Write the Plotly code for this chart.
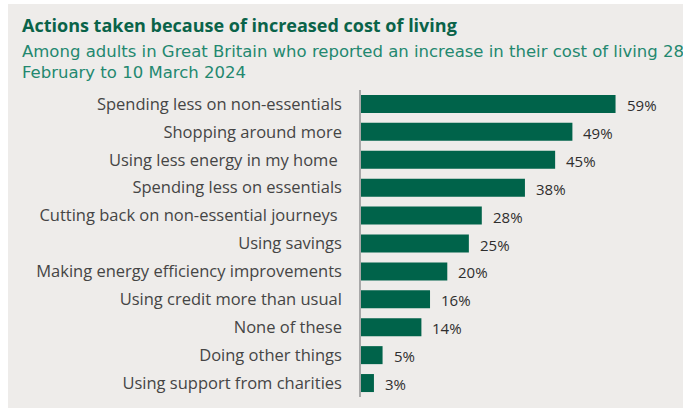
import plotly.graph_objects as go

# Survey responses, top to bottom
actions = [
    "Spending less on non-essentials",
    "Shopping around more",
    "Using less energy in my home\u00a0",
    "Spending less on essentials",
    "Cutting back on non-essential journeys\u00a0",
    "Using savings",
    "Making energy efficiency improvements",
    "Using credit more than usual",
    "None of these",
    "Doing other things",
    "Using support from charities",
]
percent = [59, 49, 45, 38, 28, 25, 20, 16, 14, 5, 3]

title_text = "Actions taken because of increased cost of living"
subtitle_line1 = "Among adults in Great Britain who reported an increase in their cost of living 28"
subtitle_line2 = "February to 10 March 2024"

W, H = 683, 411
ML, MR, MT, MB = 361, 20, 90, 14
PW = W - ML - MR
PH = H - MT - MB


def px_x(px):
    return (px - ML) / PW


def px_y(py):
    return (H - MB - py) / PH


BG = "#EEECEA"
BAR = "#00634A"

fig = go.Figure(
    go.Bar(
        x=percent,
        y=actions,
        orientation="h",
        marker=dict(color=BAR, line=dict(width=0)),
        hoverinfo="skip",
    )
)

# value labels at the end of each bar
for a, v in zip(actions, percent):
    fig.add_annotation(
        x=v, y=a, xref="x", yref="y",
        text=f"{v}%", showarrow=False,
        xanchor="left", yanchor="middle", xshift=9, yshift=-1,
        font=dict(family="Open Sans", size=15, color="#2E2E2E"),
    )

# panel background
fig.add_shape(
    type="rect", xref="paper", yref="paper", layer="below",
    x0=px_x(8), x1=px_x(690), y0=px_y(408), y1=px_y(4),
    fillcolor=BG, line=dict(width=0),
)

fig.add_annotation(
    x=px_x(20), y=px_y(25), xref="paper", yref="paper",
    text=f"<b>{title_text}</b>", showarrow=False,
    xanchor="left", yanchor="middle",
    font=dict(family="Open Sans", size=18, color="#0A6349"),
)
fig.add_annotation(
    x=px_x(20), y=px_y(52), xref="paper", yref="paper",
    text=subtitle_line1, showarrow=False,
    xanchor="left", yanchor="middle",
    font=dict(family="DejaVu Sans", size=16.5, color="#23886F"),
)
fig.add_annotation(
    x=px_x(20), y=px_y(72), xref="paper", yref="paper",
    text=subtitle_line2, showarrow=False,
    xanchor="left", yanchor="middle",
    font=dict(family="DejaVu Sans", size=16.5, color="#23886F"),
)

fig.update_layout(
    width=W, height=H,
    margin=dict(l=ML, r=MR, t=MT, b=MB, autoexpand=False),
    paper_bgcolor="white", plot_bgcolor="rgba(0,0,0,0)",
    bargap=0.355, showlegend=False,
    xaxis=dict(range=[0, 70], visible=False, fixedrange=True),
    yaxis=dict(
        autorange="reversed", showgrid=False, zeroline=False,
        showline=True, linecolor="#A8A8A8", linewidth=1.5,
        ticks="", ticklabelstandoff=14,
        tickfont=dict(family="Open Sans", size=16.5, color="#454545"),
        fixedrange=True,
    ),
)

fig.write_html("out.html", config=dict(displayModeBar=False))
